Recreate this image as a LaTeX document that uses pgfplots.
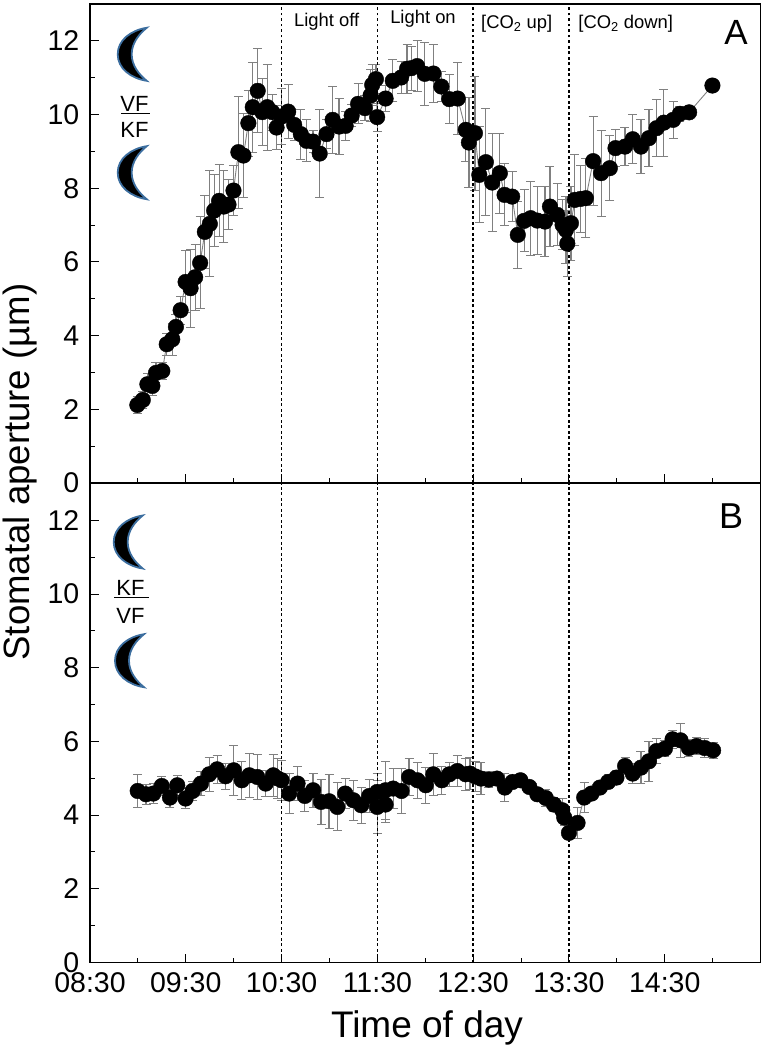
\documentclass[border=0pt]{standalone}
\usepackage{fontspec}
\setmainfont{Liberation Sans}
\usepackage{pgfplots}
\usepackage{pgfplotstable}
\pgfplotsset{compat=1.18}

\definecolor{errgray}{HTML}{808080}
\definecolor{moonblue}{HTML}{3C6E9F}

% time in decimal hours, aperture in um, error
\pgfplotstableread{
t y e
8.994 2.118 0.22
9.051 2.254 0.22
9.099 2.68 0.30
9.151 2.634 0.27
9.189 2.987 0.27
9.255 3.041 0.22
9.301 3.766 0.30
9.359 3.90 0.43
9.397 4.236 0.33
9.446 4.69 0.38
9.498 5.457 0.84
9.550 5.287 1.06
9.598 5.585 0.90
9.650 5.973 1.25
9.699 6.815 1.00
9.751 7.032 1.44
9.796 7.393 0.98
9.848 7.657 0.98
9.897 7.502 0.98
9.946 7.556 0.68
9.998 7.937 0.68
10.049 8.979 1.52
10.102 8.887 1.14
10.153 9.766 0.90
10.199 10.2 1.22
10.251 10.643 1.14
10.299 10.065 0.90
10.351 10.2 1.17
10.403 10.065 0.49
10.448 9.647 0.60
10.500 9.946 0.76
10.569 10.08 0.73
10.632 9.72 0.42
10.701 9.468 0.68
10.761 9.286 0.57
10.829 9.266 0.30
10.898 8.941 1.20
10.969 9.468 0.40
11.033 9.856 0.90
11.100 9.674 0.76
11.169 9.693 0.40
11.232 9.973 0.30
11.299 10.29 0.54
11.370 10.174 0.33
11.429 10.516 0.70
11.446 10.806 0.55
11.485 10.961 0.40
11.498 9.929 0.38
11.586 10.434 0.35
11.661 10.915 0.57
11.748 11.005 0.43
11.810 11.241 0.66
11.856 11.26 0.60
11.915 11.315 0.70
11.995 11.105 0.86
12.085 11.113 0.78
12.168 10.76 0.40
12.251 10.418 0.67
12.339 10.434 0.98
12.423 9.585 0.87
12.456 9.24 1.22
12.519 9.495 1.55
12.564 8.363 1.30
12.633 8.708 1.45
12.699 8.154 1.33
12.779 8.409 1.09
12.828 7.82 0.84
12.907 7.773 0.68
12.966 6.734 0.90
13.032 7.114 0.84
13.101 7.187 1.00
13.170 7.122 0.92
13.250 7.095 0.96
13.302 7.502 1.08
13.378 7.277 0.84
13.434 7.005 0.68
13.469 6.87 0.90
13.483 6.498 0.90
13.521 7.051 1.00
13.562 7.684 1.23
13.622 7.711 0.90
13.677 7.73 1.08
13.753 8.735 1.20
13.836 8.409 1.17
13.927 8.545 0.88
13.986 9.088 0.50
14.085 9.13 0.52
14.166 9.33 0.67
14.252 9.13 0.74
14.335 9.36 0.77
14.415 9.63 0.78
14.491 9.78 0.91
14.588 9.856 0.50
14.658 10.02 0.20
14.755 10.06 0.10
14.998 10.787 0
}\panelA

\pgfplotstableread{
t y e
8.998 4.656 0.46
9.085 4.566 0.27
9.161 4.585 0.27
9.249 4.791 0.27
9.335 4.477 0.27
9.411 4.81 0.27
9.498 4.45 0.27
9.571 4.656 0.25
9.658 4.856 0.33
9.744 5.108 0.46
9.827 5.244 0.38
9.915 5.054 0.35
10.001 5.217 0.68
10.084 4.946 0.51
10.163 5.081 0.60
10.246 5.035 0.60
10.334 4.856 0.35
10.413 5.081 0.57
10.456 5.0 0.55
10.500 4.946 0.54
10.579 4.585 0.54
10.667 4.856 0.46
10.743 4.52 0.43
10.829 4.675 0.46
10.912 4.358 0.60
10.996 4.377 0.73
11.082 4.222 0.65
11.165 4.585 0.41
11.249 4.404 0.54
11.332 4.268 0.49
11.415 4.52 0.46
11.498 4.222 0.73
11.498 4.629 0.50
11.585 4.287 0.50
11.585 4.675 0.79
11.665 4.721 0.54
11.752 4.656 0.60
11.831 5.035 0.51
11.919 4.946 0.49
12.005 4.81 0.49
12.085 5.108 0.57
12.172 4.946 0.38
12.251 5.108 0.33
12.335 5.198 0.41
12.422 5.108 0.43
12.467 5.127 0.43
12.523 5.05 0.40
12.581 4.992 0.43
12.664 4.965 0.22
12.748 4.992 0.16
12.831 4.748 0.38
12.911 4.9 0.16
12.994 4.946 0.14
13.087 4.764 0.14
13.170 4.566 0.14
13.258 4.466 0.24
13.344 4.287 0.19
13.430 4.133 0.33
13.451 3.935 0.22
13.500 3.518 0.19
13.590 3.789 0.41
13.659 4.477 0.41
13.736 4.585 0.16
13.823 4.748 0.16
13.909 4.9 0.19
13.996 5.019 0.19
14.086 5.333 0.22
14.166 5.127 0.27
14.252 5.29 0.43
14.335 5.461 0.54
14.415 5.74 0.33
14.502 5.805 0.22
14.582 6.057 0.24
14.665 6.03 0.46
14.752 5.821 0.22
14.832 5.875 0.24
14.918 5.821 0.27
15.005 5.759 0.22
}\panelB

\pgfplotsset{
  panel/.style={
    scale only axis, width=670.5pt, height=479pt,
    anchor=south west,
    xmin=8.5, xmax=15.5, ymin=0, ymax=13,
    xtick={8.5,9.5,...,15.5},
    minor x tick num=1,
    ytick={0,2,...,12},
    minor y tick num=1,
    xtick pos=bottom, ytick pos=left,
    tick align=inside,
    major tick length=9pt, minor tick length=5pt,
    every tick/.style={black, line width=1pt},
    axis line style={line width=1.3pt},
    tick label style={font=\fontsize{28.5}{28.5}\selectfont, inner sep=0pt},
    /pgf/number format/assume math mode=true,
    yticklabel style={xshift=-10.5pt},
    xticklabel style={yshift=-10pt},
  },
  eb/.style={
    no markers, errgray, line width=0.9pt,
    error bars/y dir=both, error bars/y explicit,
    error bars/error bar style={errgray, line width=1.2pt},
    error bars/error mark options={errgray, rotate=90, mark size=4.5pt, line width=1pt},
  },
  dots/.style={only marks, mark=*, mark size=7.8pt, mark options={black, fill=black}},
}
\tikzset{vline/.style={black, line width=1.4pt, dash pattern=on 2.6pt off 2.9pt}}

\newcommand{\moon}[2]{%
  \begin{scope}[shift={(#1,#2)}]
    \filldraw[fill=black, draw=moonblue, line width=1.8pt, line join=miter]
      (0,-26.5) .. controls (-16,-24) and (-29,-14) .. (-29,0)
      .. controls (-29,14) and (-16,24) .. (0,26.5)
      .. controls (-8,20) and (-15,11) .. (-15,0)
      .. controls (-15,-11) and (-8,-20) .. cycle;
  \end{scope}}

\begin{document}
\begin{tikzpicture}
\path[use as bounding box] (0,0) rectangle (765pt,-1054pt);

\begin{axis}[panel, at={(90pt,-483pt)}, xticklabels={}]
\addplot[eb] table[x=t, y=y, y error=e] {\panelA};
\addplot[dots] table[x=t, y=y] {\panelA};
\draw[vline] (axis cs:10.5,0) -- (axis cs:10.5,13);
\draw[vline] (axis cs:11.5,0) -- (axis cs:11.5,13);
\draw[vline] (axis cs:12.5,0) -- (axis cs:12.5,13);
\draw[vline] (axis cs:13.5,0) -- (axis cs:13.5,13);
\end{axis}

\begin{axis}[panel, at={(90pt,-962.5pt)},
  xticklabels={08:30,09:30,10:30,11:30,12:30,13:30,14:30,{}}]
\addplot[eb] table[x=t, y=y, y error=e] {\panelB};
\addplot[dots] table[x=t, y=y] {\panelB};
\draw[vline] (axis cs:10.5,0) -- (axis cs:10.5,13);
\draw[vline] (axis cs:11.5,0) -- (axis cs:11.5,13);
\draw[vline] (axis cs:12.5,0) -- (axis cs:12.5,13);
\draw[vline] (axis cs:13.5,0) -- (axis cs:13.5,13);
\end{axis}

\begin{scope}[x=1pt, y=-1pt]
\moon{146.7}{54.3}
\moon{146.7}{172.7}
\moon{142.7}{542}
\moon{144}{660.7}

\node[font=\fontsize{22}{22}\selectfont, inner sep=0pt] at (134.5,103.5) {VF};
\draw[line width=1.2pt] (121,113.5) -- (150,113.5);
\node[font=\fontsize{22}{22}\selectfont, inner sep=0pt] at (134.5,130) {KF};
\node[font=\fontsize{22}{22}\selectfont, inner sep=0pt] at (130.5,588) {KF};
\draw[line width=1.2pt] (114,597.7) -- (149,597.7);
\node[font=\fontsize{22}{22}\selectfont, inner sep=0pt] at (130.5,615.5) {VF};

\node[font=\fontsize{18.4}{18.4}\selectfont, inner sep=0pt] at (326.7,21.7) {Light off};
\node[font=\fontsize{18.4}{18.4}\selectfont, inner sep=0pt] at (423,19) {Light on};
\node[font=\fontsize{18.4}{18.4}\selectfont, inner sep=0pt] at (516.7,24) {[CO\textsubscript{2} up]};
\node[font=\fontsize{18.4}{18.4}\selectfont, inner sep=0pt] at (625.7,24) {[CO\textsubscript{2} down]};
\node[font=\fontsize{35}{35}\selectfont, inner sep=0pt] at (736,32.5) {A};
\node[font=\fontsize{36}{36}\selectfont, inner sep=0pt] at (731,516) {B};

\node[font=\fontsize{36.6}{36.6}\selectfont, rotate=90, inner sep=0pt] at (20.5,472) {Stomatal aperture (µm)};
\node[font=\fontsize{37}{37}\selectfont, inner sep=0pt] at (427,1028) {Time of day};
\end{scope}
\end{tikzpicture}
\end{document}
